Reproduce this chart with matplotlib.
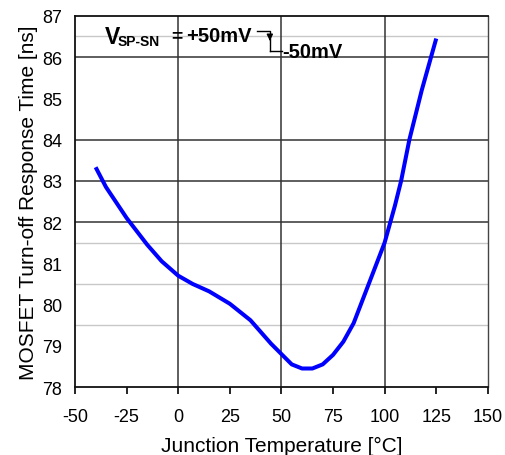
import numpy as np
import matplotlib.pyplot as plt

plt.rcParams['font.family'] = ['Liberation Sans', 'DejaVu Sans']
plt.rcParams['axes.unicode_minus'] = False

temp = [-40, -35, -25, -15, -8, 0, 7, 15, 25, 35, 45, 50, 55, 60, 65, 70,
        75, 80, 85, 90, 95, 100, 105, 108, 112, 118, 125]
t_off = [83.33, 82.85, 82.1, 81.45, 81.05, 80.7, 80.5, 80.32, 80.02, 79.62,
         79.05, 78.8, 78.55, 78.45, 78.45, 78.55, 78.78, 79.1, 79.55, 80.2,
         80.85, 81.5, 82.4, 83.0, 84.0, 85.2, 86.45]

x_ticks = [-50, -25, 0, 25, 50, 75, 100, 125, 150]
y_ticks = [78, 79, 80, 81, 82, 83, 84, 85, 86, 87]
dark_h = [82, 83, 84, 86]
light_h = [79.5, 80.5, 81.5, 86.5]
dark_v = [0, 50, 100]

fig = plt.figure(figsize=(5.05, 4.56), dpi=100)
ax = fig.add_axes([0.1485, 0.149, 0.8175, 0.814])

for yv in light_h:
    ax.axhline(yv, color='#c8c8c8', lw=1, zorder=1)
for yv in dark_h:
    ax.axhline(yv, color='#333333', lw=1.1, zorder=1)
for xv in dark_v:
    ax.axvline(xv, color='#333333', lw=1.1, zorder=1)

ax.plot(temp, t_off, color='#0000ff', lw=2.9, solid_capstyle='butt', zorder=3)

ax.set_xlim(-50, 150)
ax.set_ylim(78, 87)
ax.set_xticks(x_ticks)
ax.set_yticks(y_ticks)
ax.tick_params(axis='x', direction='out', length=5, width=1.2, labelsize=13, pad=10)
ax.tick_params(axis='y', length=0, labelsize=13, pad=9)
for s in ax.spines.values():
    s.set_linewidth(1.3)
    s.set_color('#111111')
ax.spines['right'].set_linewidth(1.0)
ax.spines['right'].set_color('#444444')

ax.set_xlabel('Junction Temperature [°C]', fontsize=15, labelpad=8)
ax.set_ylabel('MOSFET Turn-off Response Time [ns]', fontsize=15, labelpad=3)

# annotation: V_SP-SN = +50mV with step arrow to -50mV
ax.text(-35.5, 86.49, 'V', fontsize=16.5, fontweight='bold', va='center', ha='left', zorder=4)
ax.text(-29.3, 86.38, 'SP-SN', fontsize=10, fontweight='bold', va='center', ha='left', zorder=4)
ax.text(-3.3, 86.52, '=', fontsize=14, fontweight='bold', va='center', ha='left', zorder=4)
ax.text(4.0, 86.52, '+50mV', fontsize=14.5, fontweight='bold', va='center', ha='left', zorder=4)
ax.plot([38.2, 44.4, 44.4], [86.63, 86.63, 86.15], color='black', lw=1, zorder=4)
ax.plot([44.4, 50.5], [86.15, 86.15], color='black', lw=1, zorder=4)
ax.annotate('', xy=(44.4, 86.33), xytext=(44.4, 86.5),
            arrowprops=dict(arrowstyle='-|>', color='black', lw=1, mutation_scale=9), zorder=4)
ax.text(50.3, 86.14, '-50mV', fontsize=14.5, fontweight='bold', va='center', ha='left', zorder=4)

fig.savefig('out.png', dpi=100)
